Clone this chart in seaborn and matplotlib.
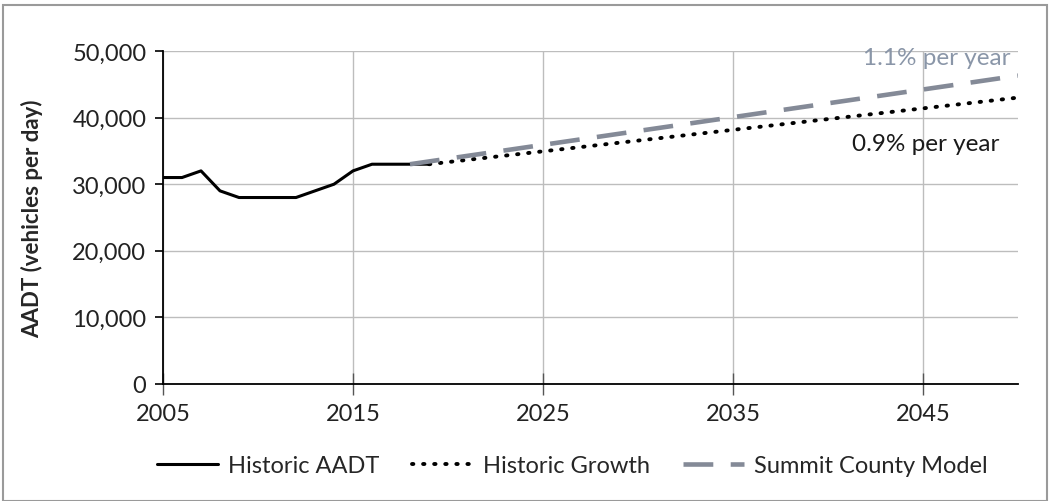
import numpy as np
import pandas as pd
import matplotlib
matplotlib.use("Agg")
import matplotlib.pyplot as plt
import seaborn as sns
from matplotlib.patches import Rectangle

# ---- data ----
hist_years = [2005, 2006, 2007, 2008, 2009, 2010, 2011, 2012, 2013, 2014, 2015, 2016, 2017, 2018, 2019]
hist_aadt = [31000, 31000, 32000, 29000, 28000, 28000, 28000, 28000, 29000, 30000, 32000, 33000, 33000, 33000, 33000]
growth_years = [2019, 2050]
growth_aadt = [33000, 43000]
model_years = [2018, 2050]
model_aadt = [33000, 46300]
x_ticks = [2005, 2015, 2025, 2035, 2045]
y_ticks = [0, 10000, 20000, 30000, 40000, 50000]

sns.set_theme(style="white")
plt.rcParams['font.family'] = ['Lato', 'DejaVu Sans']

fig = plt.figure(figsize=(10.5, 5.02), dpi=100)
ax = fig.add_axes([163/1050, 1-385/502, (1018-163)/1050, (385-52)/502])

grid_c = '#bdbdbd'
model_c = '#848a97'

sns.lineplot(x=hist_years, y=hist_aadt, ax=ax, color='black', linewidth=2.2,
             label='Historic AADT')
sns.lineplot(x=growth_years, y=growth_aadt, ax=ax, color='black', linewidth=2.8,
             label='Historic Growth', linestyle=(0, (0.35, 2.5)))
sns.lineplot(x=model_years, y=model_aadt, ax=ax, color=model_c, linewidth=3.3,
             label='Summit County Model', linestyle=(0, (6.5, 3.8)))
ax.get_lines()[1].set_dash_capstyle('round')

ax.set_xlim(2005, 2050)
ax.set_ylim(0, 50000)
ax.set_xticks(x_ticks)
ax.set_yticks(y_ticks)
ax.set_yticklabels([f"{v:,}" for v in y_ticks])
ax.grid(True, color=grid_c, linewidth=1)
ax.set_axisbelow(True)
for s in ['top', 'right']:
    ax.spines[s].set_visible(False)
for s in ['left', 'bottom']:
    ax.spines[s].set_color('black')
    ax.spines[s].set_linewidth(1.3)
ax.tick_params(axis='y', direction='out', length=6, width=1.2, color='black',
               labelsize=17, labelcolor='#222222', pad=6, left=True)
ax.tick_params(axis='x', direction='inout', length=16, width=1.0, color='#555555',
               labelsize=17, labelcolor='#222222', pad=6, bottom=True)

ax.set_ylabel('AADT (vehicles per day)', fontsize=16, fontweight='bold', labelpad=10)
ax.yaxis.set_label_coords(-0.14, 0.5)
ax.set_xlabel('')

ax.text(2049.6, 49000, '1.1% per year', color='#8a96a8', fontsize=17.5,
        ha='right', va='center')
ax.text(2049.0, 36100, '0.9% per year', color='#1a1a1a', fontsize=17.5,
        ha='right', va='center')

leg = ax.legend(loc='center', bbox_to_anchor=(0.545, 1-467/502),
                bbox_transform=fig.transFigure, ncol=3, frameon=False,
                fontsize=17, handlelength=2.6, columnspacing=1.4, handletextpad=0.4)

fig.patches.append(Rectangle((3/1050, 0), 1044/1050, 1-6/502, transform=fig.transFigure,
                             fill=False, edgecolor='#9a9a9a', linewidth=1.5))

fig.savefig('out.png', dpi=100)
